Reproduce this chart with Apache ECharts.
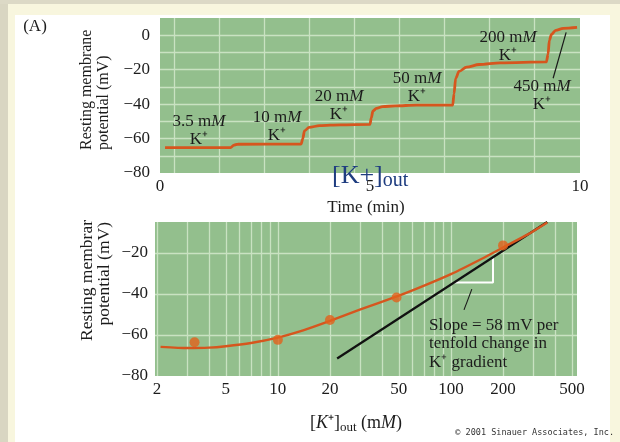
<!DOCTYPE html>
<html>
<head>
<meta charset="utf-8">
<script src="https://cdn.jsdelivr.net/npm/echarts@6/dist/echarts.min.js"></script>
<style>
  html, body { margin: 0; padding: 0; background: #f8f6de; }
  #chart { width: 620px; height: 442px; }
</style>
</head>
<body>
<div id="chart"></div>
<script>
// panel A: membrane potential over time as [K+]out is stepped up
const timeMin = [0.12, 1.68, 1.76, 1.85, 3.36, 3.40, 3.44, 3.55, 3.8, 4.3, 5.0, 5.03, 5.07, 5.15, 5.3, 5.6, 6.1,
                 6.97, 7.0, 7.04, 7.12, 7.3, 7.6, 8.1, 9.2, 9.24, 9.27, 9.32, 9.42, 9.6, 9.93];
const restingMv = [-65.3, -65.3, -63.8, -63.3, -63.2, -60, -55.5, -53.5, -52.5, -52, -51.8, -48, -44, -42.5, -41.5, -41, -40.6,
                   -40.6, -34, -25, -21, -18.5, -17, -16, -15.5, -11, -3, 0.5, 2.8, 4, 4.5];
const timeTicks = [0, 5, 10];
const timeGrid = [0.33, 1.40, 2.48, 3.55, 4.62, 5.69, 6.76, 7.83, 8.90];
const mvTicksTop = [-80, -60, -40, -20, 0];
const mvGridTop = [-70, -60, -50, -40, -30, -20, -10, 0];

// panel B: potential vs [K+]out (log scale)
const kOut = [3.3, 10, 20, 48.5, 200];
const kMv = [-63.6, -62.4, -52.7, -41.8, -16.4];
const fitK = [2.1, 3, 4, 5, 7, 10, 14, 20, 30, 50, 70, 100, 150, 200, 280, 360];
const fitMv = [-65.8, -66.4, -66.2, -65.5, -63.9, -61.3, -57.8, -53.2, -47.6, -40.9, -36.0, -30.4, -23.0, -17.4, -10.9, -5.2];
const nernstK = [22, 360];
const nernstMv = [-71.5, -5];
const slopeK = [104, 175, 175];
const slopeMv = [-34.5, -34.5, -22.1];
const kTicks = [2, 5, 10, 20, 50, 100, 200, 500];
const kGrid = [2, 3, 4, 5, 6, 7, 8, 9, 10, 20, 30, 40, 50, 60, 70, 80, 90, 100, 200, 300, 400, 500];
const mvTicksBottom = [-80, -60, -40, -20];
const mvGridBottom = [-60, -40, -20];

const zip = (a, b) => a.map((v, i) => [v, b[i]]);
const serif = 'Liberation Serif';
const ink = '#1c1c1c';
const minus = v => (v < 0 ? '\u2212' + (-v) : String(v));
const rich = { i: { fontStyle: 'italic', fontFamily: serif, fontSize: 17, fill: ink, lineHeight: 18 } };
const up = Math.PI / 2;

function txt(text, x, y, style, el) {
  return Object.assign({
    type: 'text', x: x, y: y, z: 100,
    style: Object.assign({
      text: text, fontFamily: serif, fontSize: 17, fill: ink,
      align: 'center', verticalAlign: 'middle', lineHeight: 18, rich: rich
    }, style || {})
  }, el || {});
}

const chart = echarts.init(document.getElementById('chart'));
chart.setOption({
  backgroundColor: '#f8f6de',
  animation: false,
  grid: [
    { left: 160, right: 40, top: 18, bottom: 269, show: true, backgroundColor: '#93bf8d', borderWidth: 0 },
    { left: 155, right: 43, top: 222, bottom: 66, show: true, backgroundColor: '#93bf8d', borderWidth: 0 }
  ],
  xAxis: [
    {
      type: 'value', gridIndex: 0, min: 0, max: 10,
      axisLine: { show: false },
      axisTick: { show: false, customValues: timeGrid },
      axisLabel: { customValues: timeTicks, color: ink, fontFamily: serif, fontSize: 17, margin: 5 },
      splitLine: { show: true, lineStyle: { color: '#c9e2c2', width: 1.3 } }
    },
    {
      type: 'log', gridIndex: 1, min: 1.95, max: 535,
      axisLine: { show: false },
      axisTick: { show: false, customValues: kGrid },
      axisLabel: { customValues: kTicks, color: ink, fontFamily: serif, fontSize: 17, margin: 5 },
      splitLine: { show: true, lineStyle: { color: '#c9e2c2', width: 1.3 } }
    }
  ],
  yAxis: [
    {
      type: 'value', gridIndex: 0, min: -80, max: 10,
      axisLine: { show: false },
      axisTick: { show: false, customValues: mvGridTop },
      axisLabel: { customValues: mvTicksTop, formatter: minus, color: ink, fontFamily: serif, fontSize: 17, margin: 10 },
      splitLine: { show: true, lineStyle: { color: '#c9e2c2', width: 1.3 } }
    },
    {
      type: 'value', gridIndex: 1, min: -80, max: -5,
      axisLine: { show: false },
      axisTick: { show: false, customValues: mvGridBottom },
      axisLabel: { customValues: mvTicksBottom, formatter: minus, color: ink, fontFamily: serif, fontSize: 17, margin: 7 },
      splitLine: { show: true, lineStyle: { color: '#c9e2c2', width: 1.3 } }
    }
  ],
  series: [
    {
      type: 'line', xAxisIndex: 0, yAxisIndex: 0, data: zip(timeMin, restingMv),
      symbol: 'none', smooth: 0.3, smoothMonotone: 'x',
      lineStyle: { color: '#d6561e', width: 2.8 }, z: 5
    },
    {
      type: 'line', xAxisIndex: 0, yAxisIndex: 0, data: [[9.36, -25], [9.67, 1.7]],
      symbol: 'none', lineStyle: { color: '#1a1a1a', width: 1.2 }, z: 6
    },
    {
      type: 'line', xAxisIndex: 1, yAxisIndex: 1, data: zip(slopeK, slopeMv),
      symbol: 'none', lineStyle: { color: '#ffffff', width: 2 }, z: 3
    },
    {
      type: 'line', xAxisIndex: 1, yAxisIndex: 1, data: [[132, -37.7], [119, -47.8]],
      symbol: 'none', lineStyle: { color: '#1a1a1a', width: 1.1 }, z: 3
    },
    {
      type: 'line', xAxisIndex: 1, yAxisIndex: 1, data: zip(nernstK, nernstMv),
      symbol: 'none', lineStyle: { color: '#111111', width: 2.2 }, z: 4
    },
    {
      type: 'line', xAxisIndex: 1, yAxisIndex: 1, data: zip(fitK, fitMv),
      symbol: 'none', smooth: 0.2, lineStyle: { color: '#d6561e', width: 2.4 }, z: 5
    },
    {
      type: 'scatter', xAxisIndex: 1, yAxisIndex: 1, data: zip(kOut, kMv),
      symbol: 'circle', symbolSize: 10, itemStyle: { color: '#e2611c' }, z: 6
    }
  ],
  graphic: [
    { type: 'rect', z: -10, shape: { x: 0, y: 0, width: 8, height: 442 }, style: { fill: '#d9d6c2' } },
    { type: 'rect', z: -10, shape: { x: 0, y: 0, width: 620, height: 4 }, style: { fill: '#dcd9c6' } },
    { type: 'rect', z: -9, shape: { x: 15, y: 15, width: 595, height: 427 }, style: { fill: '#ffffff' } },

    txt('(A)', 35, 27),
    txt('3.5 m{i|M}\nK\u207A', 199, 131),
    txt('10 m{i|M}\nK\u207A', 277, 127),
    txt('20 m{i|M}\nK\u207A', 339, 106),
    txt('50 m{i|M}\nK\u207A', 417, 88),
    txt('200 m{i|M}\nK\u207A', 508, 47),
    txt('450 m{i|M}\nK\u207A', 542, 96),
    txt('Time (min)', 366, 208),

    txt('Resting membrane', 87, 150, { align: 'left', fontSize: 16 }, { rotation: up }),
    txt('potential (mV)', 104, 150, { align: 'left', fontSize: 16 }, { rotation: up }),

    {
      type: 'text', x: 332, y: 176, z: 110,
      style: {
        text: '{a|[K+]}{b|out}', align: 'left', verticalAlign: 'middle',
        rich: {
          a: { fontFamily: serif, fontSize: 26, fill: '#1f3d80', lineHeight: 30 },
          b: { fontFamily: serif, fontSize: 20, fill: '#1f3d80', lineHeight: 20, verticalAlign: 'bottom' }
        }
      }
    },

    txt('Resting membrar', 87, 220, { align: 'right', fontSize: 17.5 }, { rotation: up }),
    txt('potential (mV)', 104, 222, { align: 'right', fontSize: 17.5 }, { rotation: up }),
    txt('Slope = 58 mV per\ntenfold change in\nK\u207A gradient', 429, 344, { align: 'left', lineHeight: 18.3 }),
    {
      type: 'text', x: 356, y: 423, z: 100,
      style: {
        text: '[{k|K}\u207A]{s|out} (m{i|M})', align: 'center', verticalAlign: 'middle',
        fontFamily: serif, fontSize: 18, fill: ink, lineHeight: 22,
        rich: {
          k: { fontStyle: 'italic', fontFamily: serif, fontSize: 18, fill: ink, lineHeight: 22 },
          i: { fontStyle: 'italic', fontFamily: serif, fontSize: 18, fill: ink, lineHeight: 22 },
          s: { fontFamily: serif, fontSize: 13, fill: ink, lineHeight: 12, verticalAlign: 'bottom' }
        }
      }
    },
    {
      type: 'text', x: 614, y: 433, z: 100,
      style: { text: '\u00A9 2001 Sinauer Associates, Inc.', fontFamily: 'DejaVu Sans Mono', fontSize: 8.5, fill: '#333333', align: 'right', verticalAlign: 'middle' }
    }
  ]
});
</script>
</body>
</html>
